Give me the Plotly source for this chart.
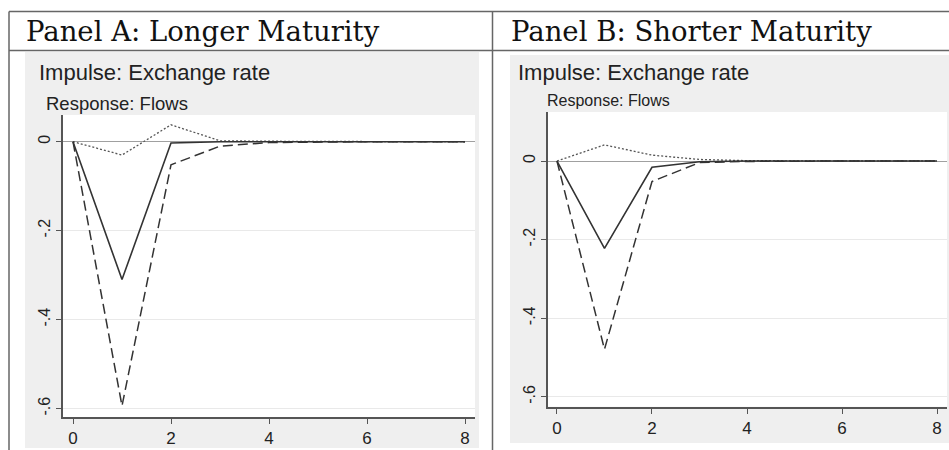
import plotly.graph_objects as go

# ---------------- data ----------------
horizon = [0, 1, 2, 3, 4, 5, 6, 7, 8]

# Panel A: Longer Maturity
irf_a = [0, -0.310, -0.003, 0.0, 0.0, 0.0, 0.0, 0.0, 0.0]
lo_a = [0, -0.594, -0.052, -0.010, -0.002, -0.0005, 0.0, 0.0, 0.0]
hi_a = [0, -0.030, 0.038, 0.002, 0.001, 0.0003, 0.0, 0.0, 0.0]

# Panel B: Shorter Maturity
irf_b = [0, -0.222, -0.016, -0.002, 0.0, 0.0, 0.0, 0.0, 0.0]
lo_b = [0, -0.479, -0.052, -0.004, -0.001, 0.0, 0.0, 0.0, 0.0]
hi_b = [0, 0.041, 0.015, 0.004, 0.001, 0.0, 0.0, 0.0, 0.0]

panel_titles = ["Panel A: Longer Maturity", "Panel B: Shorter Maturity"]
impulse_title = "Impulse: Exchange rate"
response_title = "Response: Flows"
x_ticks = [0, 2, 4, 6, 8]
y_ticks = [0, -0.2, -0.4, -0.6]
y_ticktext = ["0", "-.2", "-.4", "-.6"]

# ---------------- layout helpers ----------------
W, H = 949, 450
def fx(px):
    return px / W
def fy(py):
    return 1 - py / H

SANS = "Liberation Sans, Arial, sans-serif"
NARROW = "Liberation Sans Narrow, Arial Narrow, Liberation Sans, sans-serif"
SERIF = "DejaVu Serif, Liberation Serif, serif"
LINE_C = "#333333"

fig = go.Figure()

def add_panel(irf, lo, hi, xa, ya):
    fig.add_trace(go.Scatter(x=horizon, y=hi, mode="lines", xaxis=xa, yaxis=ya,
                             line=dict(color="#555555", width=1.3, dash="2px,2px"),
                             showlegend=False, hoverinfo="skip"))
    fig.add_trace(go.Scatter(x=horizon, y=lo, mode="lines", xaxis=xa, yaxis=ya,
                             line=dict(color=LINE_C, width=1.5, dash="10px,5px"),
                             showlegend=False, hoverinfo="skip"))
    fig.add_trace(go.Scatter(x=horizon, y=irf, mode="lines", xaxis=xa, yaxis=ya,
                             line=dict(color=LINE_C, width=1.6),
                             showlegend=False, hoverinfo="skip"))

add_panel(irf_a, lo_a, hi_a, "x", "y")
add_panel(irf_b, lo_b, hi_b, "x2", "y2")

xcommon = dict(tickmode="array", tickvals=x_ticks, ticks="outside", ticklen=5,
               tickwidth=1.2, tickcolor="#555555", showline=True, linecolor="#555555",
               linewidth=2, showgrid=False, zeroline=False,
               tickfont=dict(family=NARROW, size=17, color="#222222"))
ycommon = dict(tickmode="array", tickvals=y_ticks, ticktext=y_ticktext, ticks="outside",
               ticklen=5, tickwidth=1.2, tickcolor="#555555", showline=True,
               linecolor="#555555", linewidth=2, showgrid=True, gridcolor="#e9e9e9",
               gridwidth=1, zeroline=True, zerolinecolor="#a0a0a0", zerolinewidth=1.4,
               tickangle=-90,
               tickfont=dict(family=NARROW, size=16, color="#222222"))

fig.update_layout(
    width=W, height=H,
    margin=dict(l=0, r=0, t=0, b=0),
    paper_bgcolor="white", plot_bgcolor="white",
    xaxis=dict(domain=[fx(63), fx(475)], range=[-0.204, 8.204], anchor="y", **xcommon),
    yaxis=dict(domain=[fy(417), fy(115)], range=[-0.619, 0.06], anchor="x", **ycommon),
    xaxis2=dict(domain=[fx(548), fx(947)], range=[-0.189, 8.21], anchor="y2", **xcommon),
    yaxis2=dict(domain=[fy(406.7), fy(112)], range=[-0.625, 0.1247], anchor="x2", **ycommon),
)

shapes = []
# gray graph regions
shapes.append(dict(type="rect", xref="paper", yref="paper", x0=fx(25), x1=fx(479),
                   y0=fy(448), y1=fy(52), fillcolor="#efefef", line=dict(width=0), layer="below"))
shapes.append(dict(type="rect", xref="paper", yref="paper", x0=fx(510), x1=fx(949),
                   y0=fy(443), y1=fy(55), fillcolor="#efefef", line=dict(width=0), layer="below"))
# white plot regions on top of the gray
shapes.append(dict(type="rect", xref="paper", yref="paper", x0=fx(63), x1=fx(475),
                   y0=fy(417), y1=fy(115), fillcolor="white", line=dict(width=0), layer="below"))
shapes.append(dict(type="rect", xref="paper", yref="paper", x0=fx(548), x1=fx(947),
                   y0=fy(406.7), y1=fy(112), fillcolor="white", line=dict(width=0), layer="below"))
# table borders
bc = dict(color="#666666", width=1.5)
shapes.append(dict(type="line", xref="paper", yref="paper", x0=fx(9), x1=1, y0=fy(11.5), y1=fy(11.5), line=bc))
shapes.append(dict(type="line", xref="paper", yref="paper", x0=fx(9), x1=1, y0=fy(50.5), y1=fy(50.5), line=bc))
shapes.append(dict(type="line", xref="paper", yref="paper", x0=fx(9), x1=fx(9), y0=fy(11.5), y1=0, line=bc))
shapes.append(dict(type="line", xref="paper", yref="paper", x0=fx(492.5), x1=fx(492.5), y0=fy(11.5), y1=0, line=bc))
fig.update_layout(shapes=shapes)

ann = []
ann.append(dict(text=panel_titles[0], x=fx(24), y=fy(31), xref="paper", yref="paper",
                xanchor="left", yanchor="middle", showarrow=False,
                font=dict(family=SERIF, size=27.5, color="#111111")))
ann.append(dict(text=panel_titles[1], x=fx(509), y=fy(31), xref="paper", yref="paper",
                xanchor="left", yanchor="middle", showarrow=False,
                font=dict(family=SERIF, size=27.5, color="#111111")))
ann.append(dict(text=impulse_title, x=fx(37), y=fy(72), xref="paper", yref="paper",
                xanchor="left", yanchor="middle", showarrow=False,
                font=dict(family=SANS, size=22, color="#222222")))
ann.append(dict(text=impulse_title, x=fx(516), y=fy(72), xref="paper", yref="paper",
                xanchor="left", yanchor="middle", showarrow=False,
                font=dict(family=SANS, size=22, color="#222222")))
ann.append(dict(text=response_title, x=fx(44), y=fy(103), xref="paper", yref="paper",
                xanchor="left", yanchor="middle", showarrow=False,
                font=dict(family=SANS, size=18.5, color="#222222")))
ann.append(dict(text=response_title, x=fx(545), y=fy(100), xref="paper", yref="paper",
                xanchor="left", yanchor="middle", showarrow=False,
                font=dict(family=SANS, size=16, color="#222222")))
fig.update_layout(annotations=ann)

fig.write_html("out.html", config={"displayModeBar": False},
               post_script="document.body.style.margin='0';document.body.style.overflow='hidden';")
